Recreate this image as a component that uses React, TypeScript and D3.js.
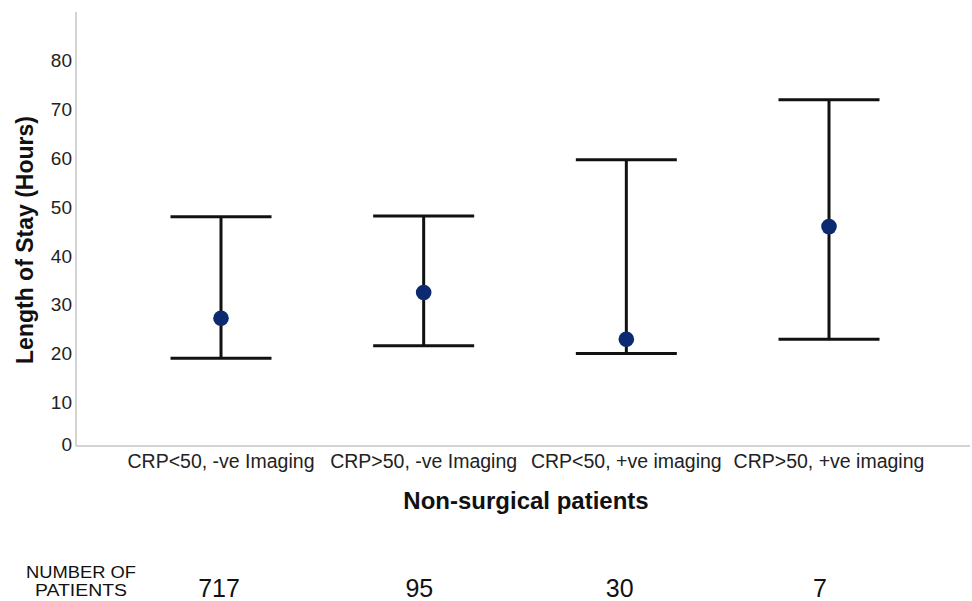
import React, { useEffect, useRef } from "react";
import * as d3 from "d3";

const categories = [
  "CRP<50, -ve Imaging",
  "CRP>50, -ve Imaging",
  "CRP<50, +ve imaging",
  "CRP>50, +ve imaging",
];
const means = [27.2, 32.5, 22.9, 46.0];
const lower = [19.0, 21.6, 20.0, 22.9];
const upper = [48.0, 48.2, 59.7, 72.0];
const patients = [717, 95, 30, 7];
const yTicks = [0, 10, 20, 30, 40, 50, 60, 70, 80];

const WIDTH = 972;
const HEIGHT = 601;
const FONT = "Arial, 'Liberation Sans', sans-serif";

export default function App() {
  const ref = useRef<SVGSVGElement>(null);

  useEffect(() => {
    if (!ref.current) return;
    const svg = d3.select(ref.current);
    svg.selectAll("*").remove();

    const y = d3.scaleLinear().domain([0, 90]).range([451, 12]);
    const x = d3.scalePoint<string>().domain(categories).range([221, 829]);
    const xCount = d3.scalePoint<string>().domain(categories).range([219, 820]);
    const axisLeft = 76;
    const axisRight = 970;
    const baseY = 446;
    const capHalf = 50.5;

    // axis lines
    svg.append("line")
      .attr("x1", axisLeft).attr("x2", axisLeft)
      .attr("y1", y(90)).attr("y2", baseY)
      .attr("stroke", "#c4c4c4").attr("stroke-width", 1.5);
    svg.append("line")
      .attr("x1", axisLeft).attr("x2", axisRight)
      .attr("y1", baseY).attr("y2", baseY)
      .attr("stroke", "#c4c4c4").attr("stroke-width", 1.5);

    // y tick labels
    svg.append("g")
      .selectAll("text")
      .data(yTicks)
      .enter()
      .append("text")
      .attr("x", 72)
      .attr("y", (d) => Math.min(y(d), baseY - 2))
      .attr("dy", "0.35em")
      .attr("text-anchor", "end")
      .attr("font-family", FONT)
      .attr("font-size", 19)
      .attr("fill", "#222")
      .text((d) => d);

    // y title
    svg.append("text")
      .attr("transform", `translate(33, 240) rotate(-90)`)
      .attr("text-anchor", "middle")
      .attr("font-family", FONT)
      .attr("font-weight", "bold")
      .attr("font-size", 23)
      .attr("fill", "#111")
      .text("Length of Stay (Hours)");

    // category labels
    svg.append("g")
      .selectAll("text")
      .data(categories)
      .enter()
      .append("text")
      .attr("x", (d) => x(d)!)
      .attr("y", 468)
      .attr("text-anchor", "middle")
      .attr("font-family", FONT)
      .attr("font-size", 19.5)
      .attr("fill", "#222")
      .text((d) => d);

    // x title
    svg.append("text")
      .attr("x", 526)
      .attr("y", 509)
      .attr("text-anchor", "middle")
      .attr("font-family", FONT)
      .attr("font-weight", "bold")
      .attr("font-size", 24)
      .attr("fill", "#111")
      .text("Non-surgical patients");

    // error bars
    const bars = svg.append("g")
      .selectAll("g")
      .data(categories)
      .enter()
      .append("g");

    bars.append("line")
      .attr("x1", (d) => x(d)!).attr("x2", (d) => x(d)!)
      .attr("y1", (d, i) => y(upper[i])).attr("y2", (d, i) => y(lower[i]))
      .attr("stroke", "#111").attr("stroke-width", 3);
    bars.append("line")
      .attr("x1", (d) => x(d)! - capHalf).attr("x2", (d) => x(d)! + capHalf)
      .attr("y1", (d, i) => y(upper[i])).attr("y2", (d, i) => y(upper[i]))
      .attr("stroke", "#111").attr("stroke-width", 3);
    bars.append("line")
      .attr("x1", (d) => x(d)! - capHalf).attr("x2", (d) => x(d)! + capHalf)
      .attr("y1", (d, i) => y(lower[i])).attr("y2", (d, i) => y(lower[i]))
      .attr("stroke", "#111").attr("stroke-width", 3);
    bars.append("circle")
      .attr("cx", (d) => x(d)!)
      .attr("cy", (d, i) => y(means[i]))
      .attr("r", 7.8)
      .attr("fill", "#0b2a72");

    // number of patients, tight two-line label
    svg.append("text")
      .attr("x", 81)
      .attr("y", 578)
      .attr("text-anchor", "middle")
      .attr("font-family", FONT)
      .attr("font-size", 16)
      .attr("textLength", 110)
      .attr("lengthAdjust", "spacingAndGlyphs")
      .attr("fill", "#111")
      .text("NUMBER OF");
    svg.append("text")
      .attr("x", 81)
      .attr("y", 596)
      .attr("text-anchor", "middle")
      .attr("font-family", FONT)
      .attr("font-size", 16)
      .attr("textLength", 92)
      .attr("lengthAdjust", "spacingAndGlyphs")
      .attr("fill", "#111")
      .text("PATIENTS");

    svg.append("g")
      .selectAll("text")
      .data(categories)
      .enter()
      .append("text")
      .attr("x", (d) => xCount(d)!)
      .attr("y", 597)
      .attr("text-anchor", "middle")
      .attr("font-family", FONT)
      .attr("font-size", 25)
      .attr("fill", "#111")
      .text((d, i) => patients[i]);
  }, []);

  return (
    <svg
      ref={ref}
      width={WIDTH}
      height={HEIGHT}
      style={{ position: "absolute", left: 0, top: 0, background: "#fff" }}
    />
  );
}
